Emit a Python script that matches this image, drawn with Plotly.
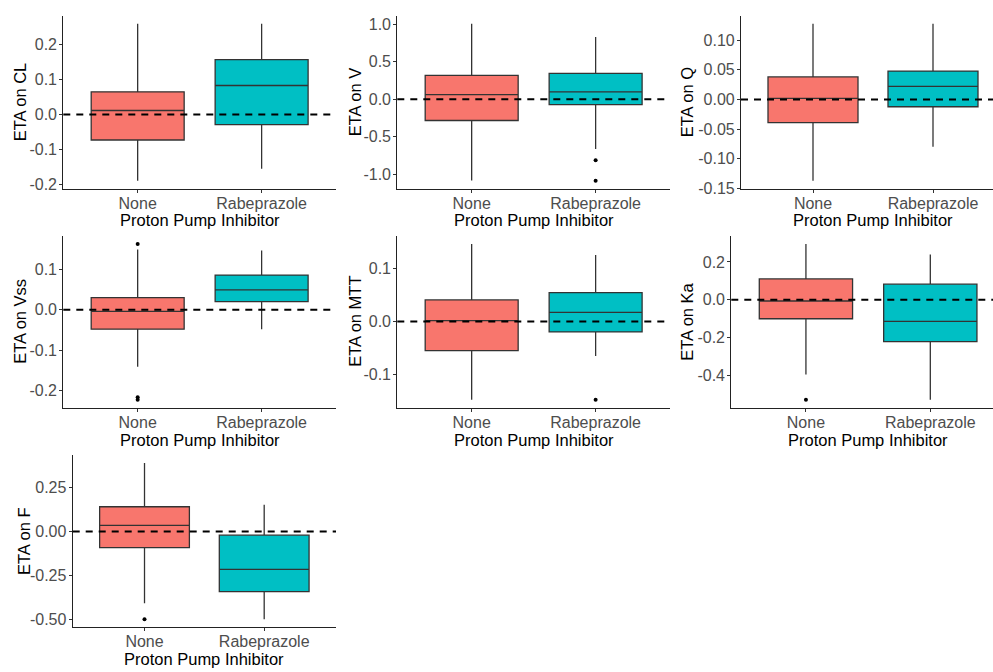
import plotly.graph_objects as go

# ---- data: box statistics per parameter, [None, Rabeprazole] ----
groups = ["None", "Rabeprazole"]
params = ["CL", "V", "Q", "Vss", "MTT", "Ka", "F"]

q1 = {
    "CL": [-0.073, -0.029], "V": [-0.282, -0.070], "Q": [-0.039, -0.0123],
    "Vss": [-0.048, 0.020], "MTT": [-0.055, -0.0195], "Ka": [-0.101, -0.222],
    "F": [-0.092, -0.341],
}
median = {
    "CL": [0.0114, 0.083], "V": [0.062, 0.100], "Q": [0.0017, 0.022],
    "Vss": [-0.004, 0.049], "MTT": [0.002, 0.0175], "Ka": [-0.007, -0.115],
    "F": [0.034, -0.215],
}
q3 = {
    "CL": [0.065, 0.157], "V": [0.318, 0.344], "Q": [0.038, 0.048],
    "Vss": [0.030, 0.086], "MTT": [0.041, 0.055], "Ka": [0.110, 0.082],
    "F": [0.140, -0.021],
}
lower = {
    "CL": [-0.190, -0.155], "V": [-1.082, -0.662], "Q": [-0.1375, -0.080],
    "Vss": [-0.141, -0.048], "MTT": [-0.148, -0.065], "Ka": [-0.396, -0.530],
    "F": [-0.407, -0.497],
}
upper = {
    "CL": [0.260, 0.260], "V": [1.007, 0.830], "Q": [0.128, 0.128],
    "Vss": [0.149, 0.147], "MTT": [0.147, 0.126], "Ka": [0.295, 0.239],
    "F": [0.388, 0.151],
}
outliers = {
    "CL": [[], []], "V": [[], [-0.810, -1.086]], "Q": [[], []],
    "Vss": [[0.163, -0.217, -0.223], []], "MTT": [[], [-0.148]],
    "Ka": [[-0.530], []], "F": [[-0.497], []],
}
tickvals = {
    "CL": [-0.2, -0.1, 0.0, 0.1, 0.2],
    "V": [-1.0, -0.5, 0.0, 0.5, 1.0],
    "Q": [-0.15, -0.10, -0.05, 0.0, 0.05, 0.10],
    "Vss": [-0.2, -0.1, 0.0, 0.1],
    "MTT": [-0.1, 0.0, 0.1],
    "Ka": [-0.4, -0.2, 0.0, 0.2],
    "F": [-0.50, -0.25, 0.0, 0.25],
}
ticktext = {
    "CL": ["-0.2", "-0.1", "0.0", "0.1", "0.2"],
    "V": ["-1.0", "-0.5", "0.0", "0.5", "1.0"],
    "Q": ["-0.15", "-0.10", "-0.05", "0.00", "0.05", "0.10"],
    "Vss": ["-0.2", "-0.1", "0.0", "0.1"],
    "MTT": ["-0.1", "0.0", "0.1"],
    "Ka": ["-0.4", "-0.2", "0.0", "0.2"],
    "F": ["-0.50", "-0.25", "0.00", "0.25"],
}
x_title = "Proton Pump Inhibitor"

# ---- layout geometry (pixels) ----
W, H = 993, 672
# panel: (left, right, top, bottom, x-range max, y-title x, x-title y)
panels = {
    "CL":  (63.3, 336.0, 16.0, 191.0, 2.6, 20, 222.5),
    "V":   (397.3, 670.0, 16.0, 191.0, 2.6, 355, 222.5),
    "Q":   (741.0, 993.0, 16.0, 191.0, 2.5, 687, 222.5),
    "Vss": (63.3, 336.0, 239.0, 412.5, 2.6, 20, 445),
    "MTT": (397.3, 670.0, 239.0, 412.5, 2.6, 355, 445),
    "Ka":  (731.3, 993.0, 239.0, 412.5, 2.504, 687, 445),
    "F":   (72.7, 336.0, 460.7, 634.5, 2.6, 24, 666.5),
}
colors = ["#F8766D", "#00BFC4"]
font_fam = "Liberation Sans, Arial, sans-serif"

fig = go.Figure()
layout = dict(
    width=W, height=H, margin=dict(l=0, r=0, t=0, b=0),
    paper_bgcolor="white", plot_bgcolor="white", showlegend=False,
    font=dict(family=font_fam),
)
shapes, annotations = [], []

for i, p in enumerate(params):
    n = "" if i == 0 else str(i + 1)
    xa, ya = "x" + n, "y" + n
    left, right, top, bot, xmax, ytx, xty = panels[p]

    for g in range(2):
        fig.add_trace(go.Box(
            x=[g + 1], q1=[q1[p][g]], median=[median[p][g]], q3=[q3[p][g]],
            lowerfence=[lower[p][g]], upperfence=[upper[p][g]],
            fillcolor=colors[g], line=dict(color="#333333", width=1.3),
            width=0.75, whiskerwidth=0, boxpoints=False,
            xaxis=xa, yaxis=ya, hoverinfo="skip",
        ))
        if outliers[p][g]:
            fig.add_trace(go.Scatter(
                x=[g + 1] * len(outliers[p][g]), y=outliers[p][g],
                mode="markers", marker=dict(color="black", size=4),
                xaxis=xa, yaxis=ya, hoverinfo="skip",
            ))

    vals = [v for arr in (lower[p], upper[p]) for v in arr]
    vals += [v for arr in outliers[p] for v in arr]
    lo, hi = min(vals), max(vals)
    pad = 0.05 * (hi - lo)

    axis_common = dict(
        showline=True, linecolor="#222222", linewidth=1.2,
        ticks="outside", ticklen=3, tickcolor="#333333", tickwidth=1.1,
        showgrid=False, zeroline=False,
        tickfont=dict(size=16, color="#4D4D4D", family=font_fam),
    )
    layout["xaxis" + n] = dict(
        axis_common,
        domain=[left / W, right / W], range=[0.4, xmax],
        tickvals=[1, 2], ticktext=groups, anchor=ya,
        ticklabelstandoff=-3,
    )
    layout["yaxis" + n] = dict(
        axis_common,
        domain=[1 - bot / H, 1 - top / H], range=[lo - pad, hi + pad],
        tickvals=tickvals[p], ticktext=ticktext[p], anchor=xa,
        ticklabelstandoff=-1,
    )

    # reference line at zero
    shapes.append(dict(
        type="line", xref=xa + " domain", yref=ya, x0=0, x1=1, y0=0, y1=0,
        line=dict(color="black", width=2, dash="7px,6px"), layer="above",
    ))

    # axis titles
    annotations.append(dict(
        text="ETA on " + p, xref="paper", yref="paper",
        x=ytx / W, y=1 - (top + bot) / 2 / H, textangle=-90,
        showarrow=False, xanchor="center", yanchor="middle",
        font=dict(size=16.5, color="black", family=font_fam),
    ))
    full_right = left + 2.2 * (right - left) / (xmax - 0.4)
    annotations.append(dict(
        text=x_title, xref="paper", yref="paper",
        x=(left + full_right) / 2 / W, y=1 - xty / H,
        showarrow=False, xanchor="center", yanchor="middle",
        font=dict(size=16.5, color="black", family=font_fam),
    ))

layout["shapes"] = shapes
layout["annotations"] = annotations
fig.update_layout(**layout)
fig.write_html("out.html")
